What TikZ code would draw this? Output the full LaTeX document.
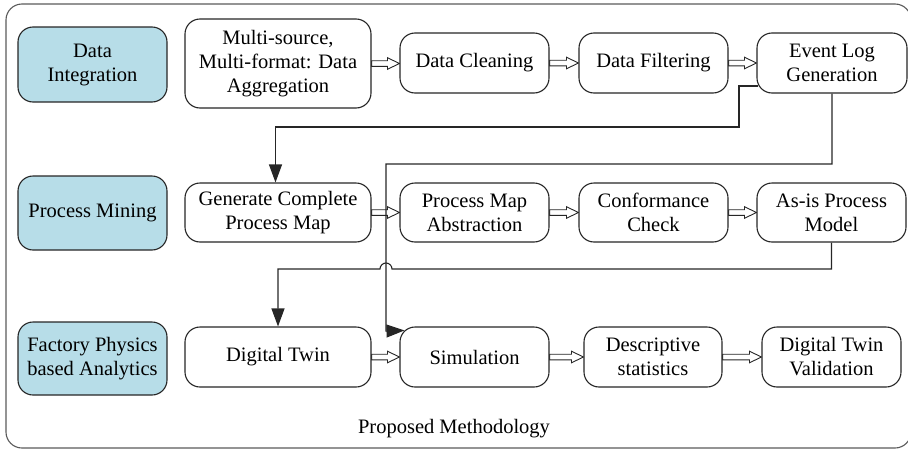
\documentclass[tikz,border=0pt]{standalone}
\usepackage{fontspec}
\setmainfont{Liberation Serif}
\usetikzlibrary{calc,arrows.meta,backgrounds}
\definecolor{stageblue}{RGB}{183,221,232}
\definecolor{framegray}{RGB}{90,90,90}
\newcommand\dblarrow[2]{%
  \draw[dblstyle] let \p1=(#1.east), \p2=(#2.west) in
    (\x1,\y1+2.8pt) -- (\x2-12pt,\y1+2.8pt) -- (\x2-12pt,\y1+5.8pt) -- (\x2,\y1)
    -- (\x2-12pt,\y1-5.8pt) -- (\x2-12pt,\y1-2.8pt) -- (\x1,\y1-2.8pt) -- cycle;}
\begin{document}
\begin{tikzpicture}[x=1pt,y=-1pt,
  font=\rmfamily\fontsize{20.5}{24}\selectfont,
  stepbox/.style={draw=black!85, line width=1.1pt, fill=white, rounded corners=15pt,
    align=center, inner sep=0pt},
  stagebox/.style={stepbox, fill=stageblue},
  dblstyle/.style={draw=black!85, line width=0.9pt, fill=white, line join=miter},
  link/.style={draw=black!85, line width=1.1pt},
  linkarrow/.style={link, -{Triangle[length=18pt,width=13pt]}}]
\useasboundingbox (0,0) rectangle (908,450);

% outer frame
\draw[framegray, line width=1.1pt, rounded corners=16pt] (6,4) rectangle (911,448);
\node[inner sep=0pt] (title) at (454,429) {Proposed Methodology};

% stage labels
\node[stagebox, minimum width=149pt, minimum height=75pt] (di) at (92.5,64.5) {Data\\Integration};
\node[stagebox, minimum width=149pt, minimum height=74pt] (pm) at (92.5,213) {Process Mining};
\node[stagebox, minimum width=149pt, minimum height=73pt] (fp) at (92.5,358.5) {Factory Physics\\based Analytics};

% row 1
\node[stepbox, minimum width=186pt, minimum height=89pt] (ms) at (278,63.5) {Multi-source,\\Multi-format: Data\\Aggregation};
\node[stepbox, minimum width=149pt, minimum height=60pt] (dc) at (474.5,63) {Data Cleaning};
\node[stepbox, minimum width=149pt, minimum height=60pt] (df) at (653.5,63) {Data Filtering};
\node[stepbox, minimum width=150pt, minimum height=60pt] (el) at (832,63) {Event Log\\Generation};

% row 2
\node[stepbox, minimum width=186pt, minimum height=59pt] (gc) at (278,212.5) {Generate Complete\\Process Map};
\node[stepbox, minimum width=149pt, minimum height=59pt] (pa) at (474.5,212.5) {Process Map\\Abstraction};
\node[stepbox, minimum width=149pt, minimum height=59pt] (cc) at (653.5,212.5) {Conformance\\Check};
\node[stepbox, minimum width=149pt, minimum height=59pt] (as) at (831.5,212.5) {As-is Process\\Model};

% row 3
\node[stepbox, minimum width=186pt, minimum height=60pt] (dt) at (278,357) {Digital Twin};
\node[stepbox, minimum width=149pt, minimum height=60pt] (sim) at (474.5,357) {Simulation};
\node[stepbox, minimum width=138pt, minimum height=60pt] (ds) at (653,357) {Descriptive\\statistics};
\node[stepbox, minimum width=139pt, minimum height=60pt] (dv) at (831.5,357) {Digital Twin\\Validation};

\coordinate (elout) at ([xshift=2pt,yshift=-23pt]el.west);
\coordinate (simin) at ([xshift=5pt,yshift=-4pt]sim.north west);
\begin{scope}[on background layer]
% sequence arrows within rows
\dblarrow{ms}{dc}
\dblarrow{dc}{df}
\dblarrow{df}{el}
\dblarrow{gc}{pa}
\dblarrow{pa}{cc}
\dblarrow{cc}{as}
\dblarrow{dt}{sim}
\dblarrow{sim}{ds}
\dblarrow{ds}{dv}
% links between rows
\draw[linkarrow] (elout) -- (739,86) -- (739,127) -- (275.5,127) -- ([xshift=-2.5pt]gc.north);
\draw[linkarrow] (el.south) -- (832,164) -- (386,164) -- (386,331) -- (simin);
\draw[linkarrow] (as.south) -- (831.5,269) -- (392,269) arc[start angle=0, end angle=180, radius=6pt]
  -- (278,269) -- (dt.north);
\end{scope}
\end{tikzpicture}
\end{document}
